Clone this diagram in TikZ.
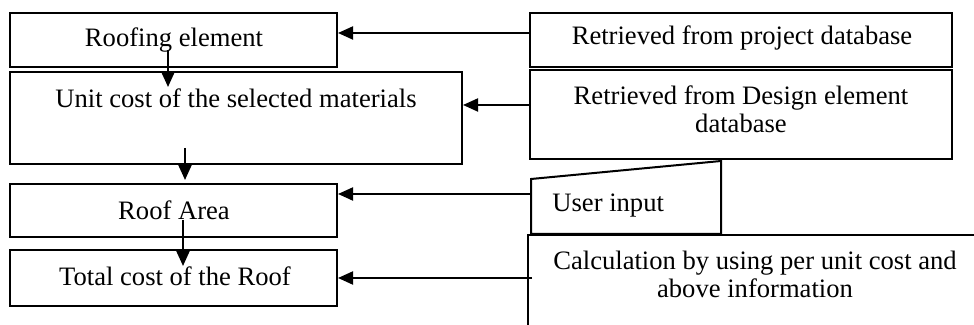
\documentclass[tikz,border=0pt]{standalone}
\usepackage{fontspec}
\setmainfont{Liberation Serif}
\usetikzlibrary{arrows.meta,fit}
\begin{document}
\begin{tikzpicture}[x=0.5pt,y=-0.5pt,
  box/.style={draw,line width=1pt,inner sep=0pt},
  lbl/.style={anchor=base,inner sep=0pt,font=\fontsize{13.3}{14}\selectfont},
  wire/.style={line width=1pt},
  arr/.style={line width=1pt,-{Triangle[length=7.5pt,width=6.5pt]}}]
\useasboundingbox (0,0) rectangle (974,325);

% left column: the steps of the roof cost estimate
\node[box,fit={(10,13) (337,67)}]   (roof)  {};
\node[box,fit={(10,72) (462,164)}]  (unit)  {};
\node[box,fit={(10,184) (337,237)}] (area)  {};
\node[box,fit={(10,250) (337,306)}] (total) {};

\node[lbl] (roofT)  at (174,47)  {Roofing element};
\node[lbl] (unitT)  at (236,108) {Unit cost of the selected materials};
\node[lbl] (areaT)  at (174,220) {Roof Area};
\node[lbl] (totalT) at (175,286) {Total cost of the Roof};

% right column: where each value comes from
\node[box,fit={(530,13) (952,67)}] (pdb) {};
\node[box,fit={(530,70) (952,159)}] (ddb) {};

\node[lbl] (pdbT)  at (742,45)  {Retrieved from project database};
\node[lbl] (ddbT1) at (741,105) {Retrieved from Design element};
\node[lbl] (ddbT2) at (741,133) {database};

% user input: box with a slanted top edge
\coordinate (uiA) at (531,179);
\coordinate (uiB) at (721,161);
\coordinate (uiC) at (721,234);
\coordinate (uiD) at (531,234);
\draw[wire] (uiA) -- (uiB) -- (uiC) -- (uiD) -- cycle;
\node[lbl,anchor=base west] (uiT) at (552,212) {User input};

% calculation box, open to the right and bottom
\coordinate (calcNW) at (528,235);
\draw[wire] (974,235) -- (calcNW) -- (528,325);
\node[lbl] (calcT1) at (755,270) {Calculation by using per unit cost and};
\node[lbl] (calcT2) at (755,298) {above information};

% sources feeding the steps
\draw[arr] (pdb.west |- 0,33)  -- (roof.east |- 0,33);
\draw[arr] (ddb.west |- 0,105) -- (unit.east |- 0,105);
\draw[arr] (uiA |- 0,194)      -- (area.east |- 0,194);
\draw[arr] (532,278)           -- (total.east |- 0,278);

% flow down the left column
\coordinate (f1) at (168,50);
\coordinate (f2) at (185,148);
\coordinate (f3) at (183,220);
\draw[arr] (f1) -- (f1 |- 0,87);
\draw[arr] (f2) -- (f2 |- 0,180);
\draw[arr] (f3) -- (f3 |- 0,266);
\end{tikzpicture}
\end{document}
